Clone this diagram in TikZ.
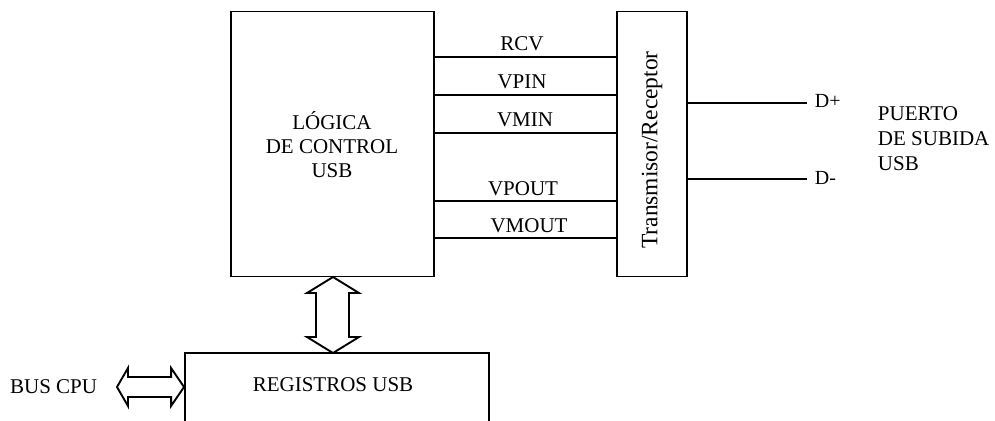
\documentclass[tikz,border=0pt]{standalone}
\usepackage{fontspec}
\setmainfont{Liberation Serif}
\usetikzlibrary{calc}
\begin{document}
\begin{tikzpicture}[x=1pt,y=-1pt,
  line width=1.9pt,
  box/.style={draw, line width=1.9pt, inner sep=0pt},
  txt/.style={font=\fontsize{21}{24}\selectfont, inner sep=1pt, align=center},
  sig/.style={txt}
]
\useasboundingbox (0,0) rectangle (995,420);
\clip (0,0) rectangle (995,420);
% blocks
\node[box, minimum width=203pt, minimum height=265pt] (logic) at (332.5,144) {};
\node[txt] (logictext) at (332,145) {LÓGICA\\DE CONTROL\\USB};
\node[box, minimum width=70pt, minimum height=265pt] (trans) at (652,144) {};
\node[rotate=90, font=\fontsize{23.5}{26}\selectfont, inner sep=0pt] (transtext) at (652,150) {Transmisor/Receptor};
\node[box, minimum width=304pt, minimum height=80pt] (regs) at (337,393) {};
\node[txt] (regstext) at (333,385) {REGISTROS USB};
% signal lines
\foreach \n/\y/\lx/\ly/\t in {rcv/57/522/44/RCV, vpin/95/522/82/VPIN, vmin/133/525/120/VMIN, vpout/201/523/189/VPOUT, vmout/238/529/226/VMOUT}{
  \coordinate (y\n) at (0,\y);
  \draw (logic.east |- y\n) -- (trans.west |- y\n);
  \node[sig] (l\n) at (\lx,\ly) {\t};
}
% outputs
\node[txt, anchor=west, inner sep=0pt, font=\fontsize{20}{22}\selectfont] (dp) at (814,101) {D+};
\node[txt, anchor=west, inner sep=0pt, font=\fontsize{20}{22}\selectfont] (dm) at (814,178) {D-};
\coordinate (ydp) at (0,103);
\coordinate (ydm) at (0,179);
\coordinate (dpend) at (807,103);
\coordinate (dmend) at (807,179);
\draw (trans.east |- ydp) -- (dpend);
\draw (trans.east |- ydm) -- (dmend);
\node[font=\fontsize{21}{25}\selectfont, align=left, anchor=north west, inner sep=0pt] (port) at (877,106) {PUERTO\\DE SUBIDA\\USB};
% vertical double arrow
\coordinate (vt) at (333,277);
\coordinate (vb) at (333,353);
\draw[line width=1.9pt, line join=miter]
  (vt) -- ($(vt)+(26,16)$) -- ($(vt)+(16,16)$) -- ($(vb)+(16,-16)$) -- ($(vb)+(26,-16)$)
  -- (vb) -- ($(vb)+(-26,-16)$) -- ($(vb)+(-17,-16)$) -- ($(vt)+(-17,16)$) -- ($(vt)+(-26,16)$) -- cycle;
% horizontal double arrow
\node[txt, anchor=east, inner sep=0pt] (bus) at (98,387) {BUS CPU};
\coordinate (hl) at (117,387);
\coordinate (hr) at (regs.west |- hl);
\draw[line width=1.9pt, line join=miter]
  (hl) -- ($(hl)+(11,-19)$) -- ($(hl)+(11,-10)$) -- ($(hr)+(-13,-10)$) -- ($(hr)+(-13,-19)$)
  -- (hr) -- ($(hr)+(-13,19)$) -- ($(hr)+(-13,10)$) -- ($(hl)+(11,10)$) -- ($(hl)+(11,19)$) -- cycle;
\end{tikzpicture}
\end{document}
